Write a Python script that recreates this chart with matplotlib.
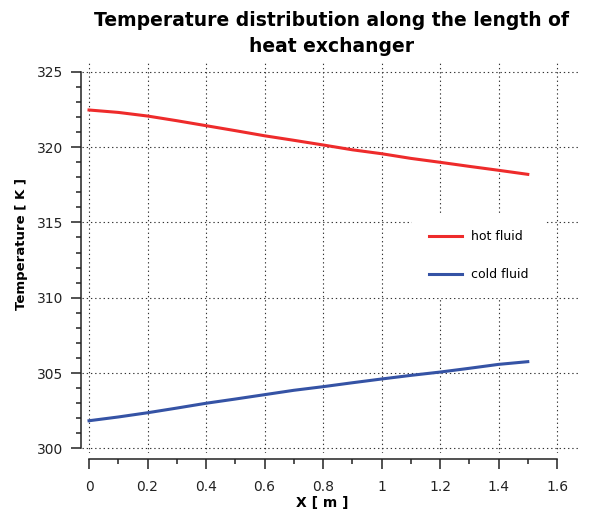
import matplotlib
matplotlib.use("Agg")
import matplotlib.pyplot as plt
from matplotlib.ticker import MultipleLocator

# values
x = [0, 0.1, 0.2, 0.3, 0.4, 0.5, 0.6, 0.7, 0.8, 0.9, 1.0, 1.1, 1.2, 1.3, 1.4, 1.5]
hot = [322.46, 322.30, 322.06, 321.75, 321.42, 321.09, 320.75, 320.45,
       320.14, 319.82, 319.56, 319.25, 318.99, 318.72, 318.46, 318.19]
cold = [301.84, 302.09, 302.37, 302.68, 303.00, 303.28, 303.57, 303.86,
        304.10, 304.36, 304.61, 304.85, 305.07, 305.32, 305.58, 305.76]
labels = ["hot fluid", "cold fluid"]

plt.rcParams['font.family'] = ['DejaVu Sans']

fig = plt.figure(figsize=(5.93, 5.15), dpi=100)
ax = fig.add_axes([0.1383, 0.1204, 0.840, 0.7573])

ax.plot(x, hot, color="#ee2b2b", lw=2.2, label=labels[0])
ax.plot(x, cold, color="#3553a5", lw=2.2, label=labels[1])

ax.set_xlim(-0.024, 1.679)
ax.set_ylim(299.7, 325.58)

ax.xaxis.set_major_locator(MultipleLocator(0.2))
ax.xaxis.set_minor_locator(MultipleLocator(0.1))
ax.yaxis.set_major_locator(MultipleLocator(5))
ax.yaxis.set_minor_locator(MultipleLocator(1))
ax.set_xticks([0, 0.2, 0.4, 0.6, 0.8, 1.0, 1.2, 1.4, 1.6])
ax.set_xticklabels(["0", "0.2", "0.4", "0.6", "0.8", "1", "1.2", "1.4", "1.6"])

ax.grid(True, which="major", color="#333333", linestyle=(0, (1.2, 2.6)), linewidth=0.8)

for s in ["top", "right"]:
    ax.spines[s].set_visible(False)
ax.spines["left"].set_position(("outward", 1))
ax.spines["bottom"].set_position(("outward", 4.5))
ax.spines["left"].set_bounds(300, 325)
ax.spines["bottom"].set_bounds(0, 1.6)
for s in ["left", "bottom"]:
    ax.spines[s].set_linewidth(1.1)
    ax.spines[s].set_color("#222222")

ax.tick_params(which="major", length=7.2, width=1.1, color="#222222",
               labelsize=10, labelcolor="#222222", pad=5)
ax.tick_params(axis="x", which="major", pad=8)
ax.tick_params(which="minor", length=3.6, width=1.1, color="#222222")

ax.set_title("Temperature distribution along the length of\nheat exchanger",
             fontsize=13.5, fontweight="bold", linespacing=1.45, pad=8)

ax.set_xlabel("X [ m ]", fontsize=10, fontweight="bold")
ax.xaxis.set_label_coords(0.482, -0.128)
ax.xaxis.label.set_va("center")
ax.set_ylabel("Temperature [ K ]", fontsize=9.5, fontweight="bold")
ax.yaxis.set_label_coords(-0.1205, 0.537)
ax.yaxis.label.set_va("center")

leg = ax.legend(loc="upper left", bbox_to_anchor=(412 / 593, 1 - 213 / 515),
                bbox_transform=fig.transFigure, borderaxespad=0,
                fontsize=9, handlelength=2.64, handletextpad=0.72,
                labelspacing=2.0, borderpad=1.36, frameon=True,
                fancybox=False, framealpha=1, facecolor="white",
                edgecolor="none")

fig.savefig("out.png", dpi=100)
